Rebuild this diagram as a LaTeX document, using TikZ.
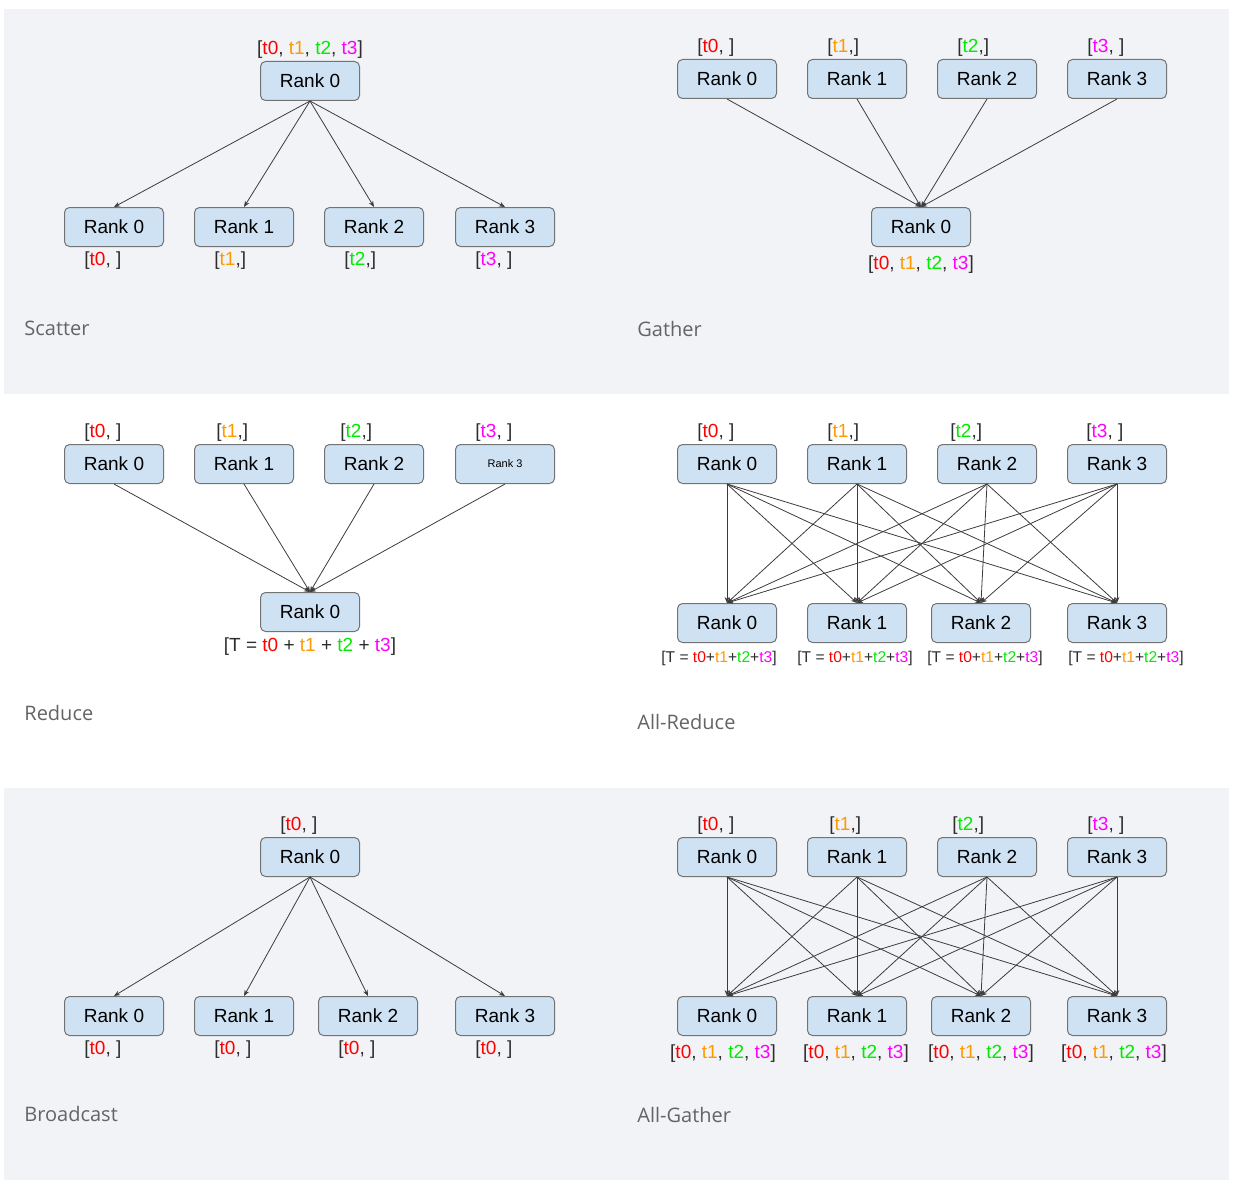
\documentclass[tikz,border=0pt]{standalone}
\usepackage{fontspec}
\setmainfont{Liberation Sans}
\newfontfamily\titlefont{Open Sans}
\usetikzlibrary{positioning,arrows.meta}
\definecolor{panelgray}{RGB}{242,243,247}
\definecolor{rankfill}{RGB}{207,226,243}
\definecolor{rankborder}{RGB}{115,115,115}
\definecolor{linkgray}{RGB}{60,60,60}
\definecolor{titlegray}{RGB}{100,100,100}
\definecolor{bracketgray}{RGB}{45,45,45}
\definecolor{tred}{RGB}{255,0,0}
\definecolor{torange}{RGB}{255,153,0}
\definecolor{tgreen}{RGB}{0,235,0}
\definecolor{tmagenta}{RGB}{255,0,255}
\newcommand{\tzero}{\textcolor{tred}{t0}}
\newcommand{\tone}{\textcolor{torange}{t1}}
\newcommand{\ttwo}{\textcolor{tgreen}{t2}}
\newcommand{\tthree}{\textcolor{tmagenta}{t3}}
\newcommand{\tall}{[\tzero, \tone, \ttwo, \tthree]}
\newcommand{\tsum}{[T = \tzero+\tone+\ttwo+\tthree]}

\begin{document}
\begin{tikzpicture}[x=0.5pt,y=-0.5pt,
			rank/.style={draw=rankborder, line width=0.5pt, fill=rankfill, rounded corners=2.5pt,
			minimum width=49.5pt, minimum height=19.5pt, inner sep=0pt,
			font=\fontsize{9.5}{11}\selectfont},
			data/.style={inner sep=1pt, text=bracketgray, font=\fontsize{9.5}{11}\selectfont},
			small data/.style={data, font=\fontsize{7.8}{9}\selectfont},
			link/.style={draw=linkgray, line width=0.4pt, -{Stealth[length=3pt,width=2.4pt]}},
			title/.style={anchor=west, inner sep=0pt, text=titlegray, font=\titlefont\fontsize{10}{12}\selectfont}
			]
		\useasboundingbox (0,0) rectangle (1236,1188);
		\fill[panelgray] (4,9) rectangle (1229,394);
		\fill[panelgray] (4,788) rectangle (1229,1180);

		\node[rank] (sc) at (310,81) {Rank 0};
		\node[data, above=0pt of sc] {\tall};
		\node[rank] (s0) at (114,227) {Rank 0};
		\node[rank] (s1) at (244,227) {Rank 1};
		\node[rank] (s2) at (374,227) {Rank 2};
		\node[rank] (s3) at (505,227) {Rank 3};
		\node[data, below right=1pt and 9pt of s0.south west] {[\tzero, ]};
		\node[data, below right=1pt and 9pt of s1.south west] {[\tone,]};
		\node[data, below right=1pt and 9pt of s2.south west] {[\ttwo,]};
		\node[data, below right=1pt and 9pt of s3.south west] {[\tthree, ]};
		\draw[link] (sc.south) -- (s0.north);
		\draw[link] (sc.south) -- (s1.north);
		\draw[link] (sc.south) -- (s2.north);
		\draw[link] (sc.south) -- (s3.north);
		\node[title] (scatter) at (24,328) {Scatter};

		\node[rank] (g0) at (727,79) {Rank 0};
		\node[rank] (g1) at (857,79) {Rank 1};
		\node[rank] (g2) at (987,79) {Rank 2};
		\node[rank] (g3) at (1117,79) {Rank 3};
		\node[data, above right=0pt and 9pt of g0.north west] {[\tzero, ]};
		\node[data, above right=0pt and 9pt of g1.north west] {[\tone,]};
		\node[data, above right=0pt and 9pt of g2.north west] {[\ttwo,]};
		\node[data, above right=0pt and 9pt of g3.north west] {[\tthree, ]};
		\node[rank] (gc) at (921,227) {Rank 0};
		\node[data, below=3pt of gc] {\tall};
		\draw[link] (g0.south) -- (gc.north);
		\draw[link] (g1.south) -- (gc.north);
		\draw[link] (g2.south) -- (gc.north);
		\draw[link] (g3.south) -- (gc.north);
		\node[title] (gather) at (637,329) {Gather};

		\node[rank] (r0) at (114,464) {Rank 0};
		\node[rank] (r1) at (244,464) {Rank 1};
		\node[rank] (r2) at (374,464) {Rank 2};
		\node[rank, font=\fontsize{5.5}{6}\selectfont] (r3) at (505,464) {Rank 3};
		\node[data, above right=0pt and 9pt of r0.north west] {[\tzero, ]};
		\node[data, above right=0pt and 10pt of r1.north west] {[\tone,]};
		\node[data, above right=0pt and 7pt of r2.north west] {[\ttwo,]};
		\node[data, above right=0pt and 9pt of r3.north west] {[\tthree, ]};
		\node[rank] (rc) at (310,612) {Rank 0};
		\node[data, below=1.5pt of rc] {[T = \tzero{} + \tone{} + \ttwo{} + \tthree]};
		\draw[link] (r0.south) -- (rc.north);
		\draw[link] (r1.south) -- (rc.north);
		\draw[link] (r2.south) -- (rc.north);
		\draw[link] (r3.south) -- (rc.north);
		\node[title] (reduce) at (24,713) {Reduce};

		\node[rank] (a0) at (727,464) {Rank 0};
		\node[rank] (a1) at (857,464) {Rank 1};
		\node[rank] (a2) at (987,464) {Rank 2};
		\node[rank] (a3) at (1117,464) {Rank 3};
		\node[data, above right=0pt and 9pt of a0.north west] {[\tzero, ]};
		\node[data, above right=0pt and 9pt of a1.north west] {[\tone,]};
		\node[data, above right=0pt and 5.5pt of a2.north west] {[\ttwo,]};
		\node[data, above right=0pt and 8.5pt of a3.north west] {[\tthree, ]};
		\node[rank] (b0) at (727,623) {Rank 0};
		\node[rank] (b1) at (857,623) {Rank 1};
		\node[rank] (b2) at (981,623) {Rank 2};
		\node[rank] (b3) at (1117,623) {Rank 3};
		\node[small data, below=3pt of b0, xshift=-4pt] {\tsum};
		\node[small data, below=3pt of b1, xshift=-1pt] {\tsum};
		\node[small data, below=3pt of b2, xshift=2pt] {\tsum};
		\node[small data, below=3pt of b3, xshift=4.5pt] {\tsum};
		\foreach \i in {0,...,3}
			\foreach \j in {0,...,3}
				\draw[link] (a\i.south) -- (b\j.north);
		\node[title] (allreduce) at (637,722) {All-Reduce};

		\node[rank] (bc) at (310,857) {Rank 0};
		\node[data, above right=0pt and 9pt of bc.north west] {[\tzero, ]};
		\node[rank] (c0) at (114,1016) {Rank 0};
		\node[rank] (c1) at (244,1016) {Rank 1};
		\node[rank] (c2) at (368,1016) {Rank 2};
		\node[rank] (c3) at (505,1016) {Rank 3};
		\node[data, below right=1pt and 9pt of c0.south west] {[\tzero, ]};
		\node[data, below right=1pt and 9pt of c1.south west] {[\tzero, ]};
		\node[data, below right=1pt and 9pt of c2.south west] {[\tzero, ]};
		\node[data, below right=1pt and 9pt of c3.south west] {[\tzero, ]};
		\draw[link] (bc.south) -- (c0.north);
		\draw[link] (bc.south) -- (c1.north);
		\draw[link] (bc.south) -- (c2.north);
		\draw[link] (bc.south) -- (c3.north);
		\node[title] (broadcast) at (24,1114) {Broadcast};

		\node[rank] (e0) at (727,857) {Rank 0};
		\node[rank] (e1) at (857,857) {Rank 1};
		\node[rank] (e2) at (987,857) {Rank 2};
		\node[rank] (e3) at (1117,857) {Rank 3};
		\node[data, above right=0pt and 9pt of e0.north west] {[\tzero, ]};
		\node[data, above right=0pt and 10pt of e1.north west] {[\tone,]};
		\node[data, above right=0pt and 6.5pt of e2.north west] {[\ttwo,]};
		\node[data, above right=0pt and 9pt of e3.north west] {[\tthree, ]};
		\node[rank] (f0) at (727,1016) {Rank 0};
		\node[rank] (f1) at (857,1016) {Rank 1};
		\node[rank] (f2) at (981,1016) {Rank 2};
		\node[rank] (f3) at (1117,1016) {Rank 3};
		\node[data, below=3pt of f0, xshift=-2pt] {\tall};
		\node[data, below=3pt of f1, xshift=-0.5pt] {\tall};
		\node[data, below=3pt of f2] {\tall};
		\node[data, below=3pt of f3, xshift=-1.5pt] {\tall};
		\foreach \i in {0,...,3}
			\foreach \j in {0,...,3}
				\draw[link] (e\i.south) -- (f\j.north);
		\node[title] (allgather) at (637,1115) {All-Gather};
	\end{tikzpicture}
\end{document}
